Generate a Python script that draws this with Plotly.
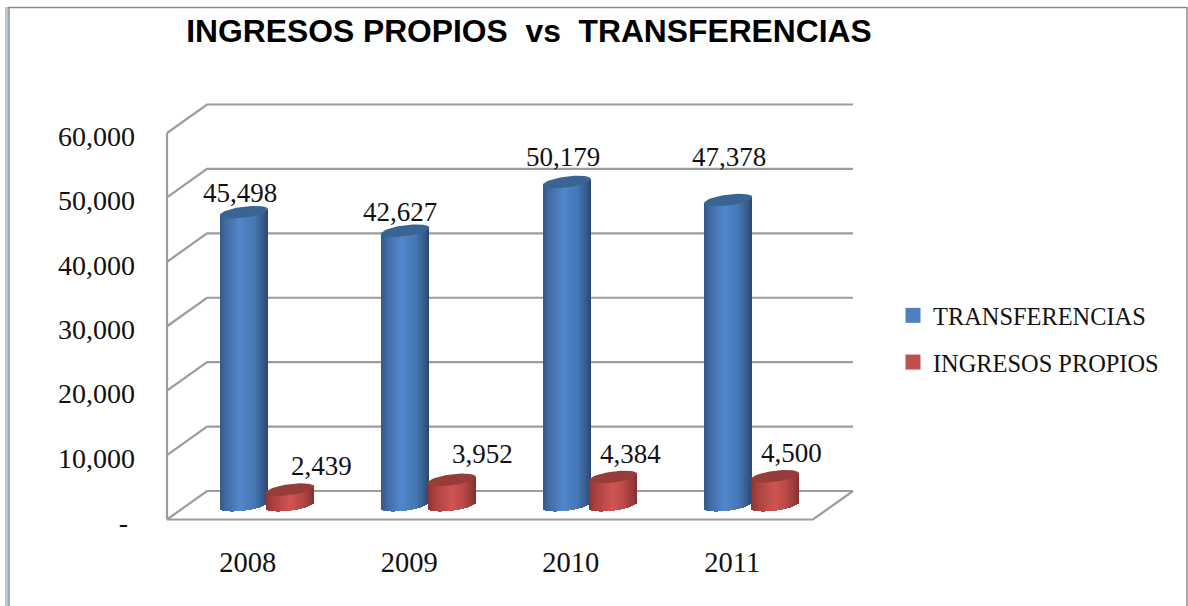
import math
import plotly.graph_objects as go

# ---- data ----
years = ["2008", "2009", "2010", "2011"]
transferencias = [45498, 42627, 50179, 47378]
ingresos_propios = [2439, 3952, 4384, 4500]
y_ticks = [0, 10000, 20000, 30000, 40000, 50000, 60000]
y_labels = ["-\u00a0", "10,000", "20,000", "30,000", "40,000", "50,000", "60,000"]
title_text = "INGRESOS PROPIOS\u00a0\u00a0vs\u00a0\u00a0TRANSFERENCIAS"

# ---- geometry (pixels of the page) ----
W, H = 1188, 606
L, R, T, B = 160, 860, 95, 530
FRONT_X0, CAT_PX = 167.0, 161.5
ZERO_PX, PX_PER_UNIT = 519.5, 386.5 / 60000
DEPTH_X, DEPTH_Y = 40.0, 28.5
BAR_W, ELL_B, ELL_TILT = 48.0, 5.5, 3.0
N_SLICES = 24

ux = 1.0 / CAT_PX                 # data units of x per pixel
uy = 1.0 / PX_PER_UNIT            # data units of y per pixel
x_range = [(L - FRONT_X0) * ux - 0.5, (R - FRONT_X0) * ux - 0.5]
y_range = [(ZERO_PX - B) * uy, (ZERO_PX - T) * uy]
px = lambda p: (p - L) / (R - L)
py = lambda p: (B - p) / (B - T)


def blend(c1, c2, t):
    return "rgb(%d,%d,%d)" % tuple(round(a + (b - a) * t) for a, b in zip(c1, c2))


def shade(stops, t):
    for (t0, c0), (t1, c1) in zip(stops, stops[1:]):
        if t <= t1:
            return blend(c0, c1, (t - t0) / (t1 - t0))
    return blend(stops[-1][1], stops[-1][1], 0)


BLUE = [(0, (52, 88, 134)), (0.12, (64, 107, 163)), (0.42, (82, 135, 204)), (0.72, (70, 118, 180)), (0.9, (54, 91, 140)), (1, (42, 70, 108))]
RED = [(0, (140, 52, 50)), (0.12, (168, 64, 62)), (0.5, (208, 84, 82)), (0.75, (182, 72, 70)), (0.92, (150, 56, 54)), (1, (128, 48, 46))]
BLUE_CAP, RED_CAP = "rgb(58,100,148)", "rgb(150,60,57)"

fig = go.Figure()

dx_depth, dy_depth = DEPTH_X * ux, DEPTH_Y * uy
half_bar = BAR_W * ux
bar_dx = dx_depth / 2
bar_dy = dy_depth / 2
a = BAR_W / 2
slice_w = half_bar / N_SLICES
blue_off = -half_bar / 2
red_off = half_bar / 2 - 1.5 * ux


def cylinder(values, centre_off, stops, cap_color):
    for j in range(N_SLICES):
        t = (j + 0.5) / N_SLICES
        s = 2 * t - 1
        xs = [i + bar_dx + centre_off + s * a * ux for i in range(len(values))]
        low = ELL_B * (1 - s * s) ** 0.5 - ELL_TILT * s
        tilt = ELL_TILT * s
        base = [bar_dy - low * uy] * len(values)
        tops = [v + tilt * uy + low * uy for v in values]
        fig.add_trace(go.Bar(x=xs, y=tops, base=base, width=slice_w,
                             marker=dict(color=shade(stops, t), line=dict(width=0)),
                             showlegend=False, hoverinfo="skip"))
    for i, v in enumerate(values):
        ex, ey = [], []
        for k in range(61):
            tt = 2 * math.pi * k / 60
            c, sn = math.cos(tt), math.sin(tt)
            ex.append(i + bar_dx + centre_off + a * c * ux)
            ey.append(v + bar_dy + (ELL_B * sn + ELL_TILT * c) * uy)
        fig.add_trace(go.Scatter(x=ex, y=ey, mode="lines", fill="toself", fillcolor=cap_color,
                                 line=dict(width=0, color=cap_color), showlegend=False, hoverinfo="skip"))


cylinder(transferencias, blue_off, BLUE, BLUE_CAP)
cylinder(ingresos_propios, red_off, RED, RED_CAP)

# legend entries
for nm, col, grp in (("TRANSFERENCIAS", "#4F81BD", "a"), ("INGRESOS PROPIOS", "#C0504D", "b")):
    fig.add_trace(go.Scatter(x=[None], y=[None], mode="markers", name=nm, legendgroup=grp,
                             marker=dict(symbol="square", size=15, color=col, line=dict(width=0))))

# walls and gridlines, built from the value axis
GRID = dict(color="#9c9c9c", width=2.2)
x_front_l, x_front_r = -0.5, 3.5
shapes = []
for v in y_ticks:
    shapes.append(dict(type="path", layer="below", xref="x", yref="y", line=GRID,
                       path=f"M{x_front_l},{v} L{x_front_l + dx_depth},{v + dy_depth} L{x_front_r + dx_depth},{v + dy_depth}"))
shapes.append(dict(type="line", layer="below", xref="x", yref="y", line=GRID,
                   x0=x_front_l, x1=x_front_l, y0=0, y1=y_ticks[-1]))
shapes.append(dict(type="path", layer="below", xref="x", yref="y", line=GRID,
                   path=f"M{x_front_l},0 L{x_front_r},0 L{x_front_r + dx_depth},{dy_depth}"))
# page frame
shapes += [
    dict(type="rect", layer="below", xref="paper", yref="paper", x0=px(5), x1=px(8), y0=py(7), y1=py(606),
         fillcolor="#b4c7e0", line=dict(width=0)),
    dict(type="line", layer="below", xref="paper", yref="paper", x0=px(9), x1=px(9), y0=py(7), y1=py(606),
         line=dict(color="#8a8a8a", width=1.5)),
    dict(type="line", layer="below", xref="paper", yref="paper", x0=px(8), x1=px(1187), y0=py(7.5), y1=py(7.5),
         line=dict(color="#8a8a8a", width=1.5)),
    dict(type="line", layer="below", xref="paper", yref="paper", x0=px(1187), x1=px(1187), y0=py(7), y1=py(606),
         line=dict(color="#8a8a8a", width=1.5)),
]

# value labels
SERIF = "Liberation Serif"
blue_shift = [-4, -5, -4, 1]
blue_lift = [19, 19, 25, 43]
red_shift = [31, 31, 17, 17]
red_lift = [24, 26, 23, 23]
annos = []
for vals, off, xs_, ls_ in ((transferencias, blue_off, blue_shift, blue_lift),
                            (ingresos_propios, red_off, red_shift, red_lift)):
    for i, v in enumerate(vals):
        annos.append(dict(x=i + bar_dx + off, y=v + bar_dy, xref="x", yref="y", text=f"{v:,}", showarrow=False,
                          xshift=xs_[i], yshift=ls_[i], font=dict(family=SERIF, size=27, color="#111")))

fig.update_layout(
    width=W, height=H, autosize=False,
    margin=dict(l=L, r=W - R, t=T, b=H - B, pad=0),
    paper_bgcolor="white", plot_bgcolor="white",
    barmode="overlay", bargap=0, showlegend=True,
    title=dict(text=title_text, xref="container", yref="container", x=529 / W, y=1 - 31 / H,
               xanchor="center", yanchor="middle",
               font=dict(family="Liberation Sans", size=31.8, color="#000", weight="bold")),
    xaxis=dict(range=x_range, tickmode="array", tickvals=list(range(4)), ticktext=years, showgrid=False,
               zeroline=False, showline=False, ticks="", ticklabelstandoff=12,
               tickfont=dict(family=SERIF, size=28.5, color="#111"), fixedrange=True),
    yaxis=dict(range=y_range, tickmode="array", tickvals=y_ticks, ticktext=y_labels, showgrid=False,
               zeroline=False, showline=False, ticks="", ticklabelstandoff=24, ticklabelshift=3,
               tickfont=dict(family=SERIF, size=28, color="#111"), fixedrange=True),
    legend=dict(x=px(893), y=py(293), xanchor="left", yanchor="top", tracegroupgap=12,
                bgcolor="rgba(0,0,0,0)", font=dict(family=SERIF, size=24.4, color="#111")),
    shapes=shapes, annotations=annos,
)

fig.write_html("out.html", config=dict(displayModeBar=False),
               post_script="document.body.style.margin='0';document.body.style.overflow='hidden';")
